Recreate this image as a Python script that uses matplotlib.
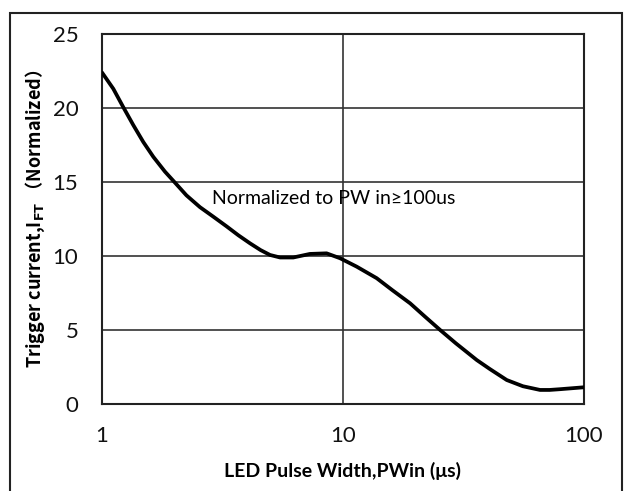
import numpy as np
import matplotlib.pyplot as plt
from matplotlib.patches import Rectangle

plt.rcParams['font.family'] = ['Lato', 'DejaVu Sans', 'Noto Sans CJK SC']

# curve
pw  = [1.0, 1.114, 1.226, 1.348, 1.484, 1.633, 1.825, 2.01, 2.24, 2.55, 2.90,
       3.29, 3.68, 4.11, 4.55, 4.98, 5.48, 6.22, 7.29, 8.55, 9.72, 11.4, 13.8,
       16.0, 19.0, 21.9, 25.3, 29.4, 35.9, 40.7, 47.8, 55.8, 65.7, 72.0, 79.5,
       90.0, 100.0]
ift = [22.4, 21.3, 20.05, 18.85, 17.7, 16.7, 15.7, 14.95, 14.1, 13.3, 12.65,
       12.0, 11.4, 10.86, 10.4, 10.07, 9.9, 9.9, 10.14, 10.18, 9.85, 9.28, 8.5,
       7.7, 6.8, 5.9, 5.0, 4.1, 2.97, 2.36, 1.62, 1.2, 0.95, 0.95, 1.0,
       1.07, 1.13]

xticks = [1, 10, 100]
xticklabels = ['1', '10', '100']
yticks = [0, 5, 10, 15, 20, 25]

fig = plt.figure(figsize=(6.27, 4.91), dpi=100)
W, H = 627., 491.
ax = fig.add_axes([102/W, 1-404/H, (584-102)/W, (404-34)/H])

ax.plot(pw, ift, color='k', linewidth=2.7, solid_capstyle='round',
        solid_joinstyle='round', zorder=3)

ax.set_xscale('log')
ax.set_xlim(1, 100)
ax.set_ylim(0, 25)
ax.set_xticks(xticks)
ax.set_xticklabels(xticklabels)
ax.minorticks_off()
ax.set_yticks(yticks)
ax.tick_params(axis='both', length=0, labelsize=16, colors='#111111')
ax.tick_params(axis='x', pad=16)
ax.tick_params(axis='y', pad=17)
ax.grid(True, color='#333333', linewidth=1.2)
ax.set_axisbelow(True)
for s in ax.spines.values():
    s.set_color('#222222')
    s.set_linewidth(1.5)

ax.set_xlabel('LED Pulse Width,PWin (μs)', fontsize=14, fontweight='bold', labelpad=11)
ax.set_ylabel('Trigger current,I$_{\\mathbf{FT}}$ （Normalized）', fontsize=13,
              fontweight='bold', labelpad=4, family='Noto Sans CJK SC')

ax.text(2.86, 13.9, 'Normalized to PW in≥100us', fontsize=14, va='center', ha='left',
        family=['Lato', 'DejaVu Sans'])

# outer frame
fig.patches.append(Rectangle((10/W, -0.05), (622-10)/W, 1.05-13/H, transform=fig.transFigure,
                             fill=False, edgecolor='#222222', linewidth=1.5))

plt.savefig('out.png', dpi=100)
